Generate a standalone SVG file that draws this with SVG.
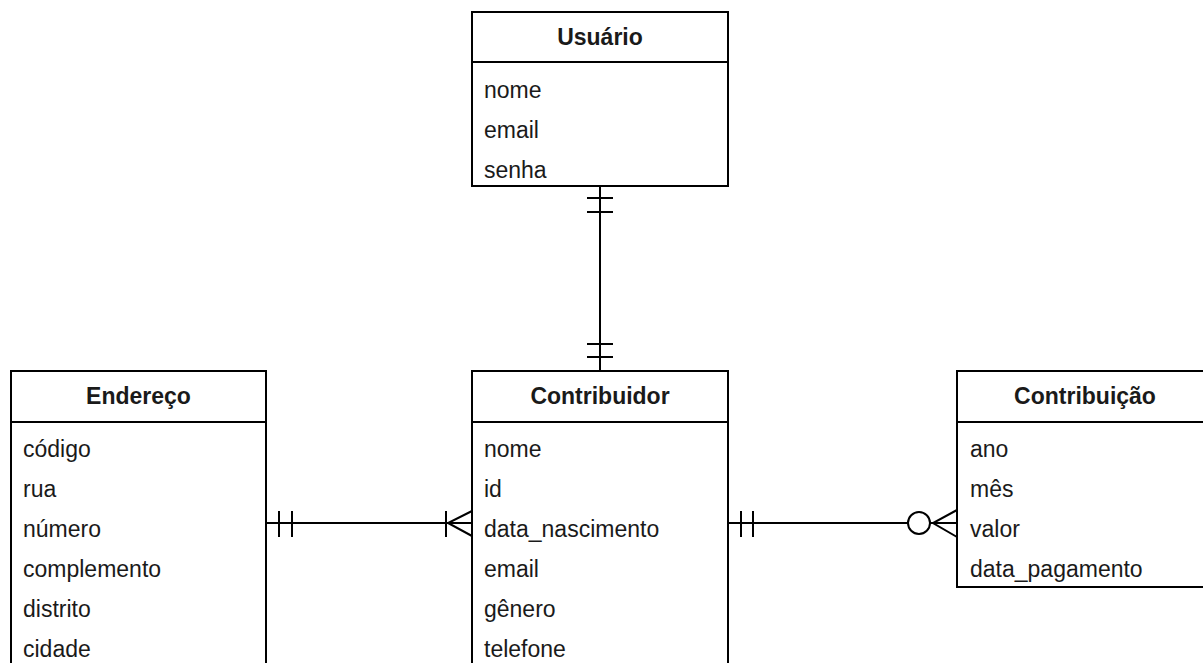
<svg xmlns="http://www.w3.org/2000/svg" width="1203" height="663" viewBox="0 0 1203 663">
<style>
.box{fill:#fff;stroke:#000;stroke-width:2}
.hl{stroke:#000;stroke-width:2}
.title{font-family:"Liberation Sans",Arial,sans-serif;font-size:23px;font-weight:bold;fill:#1a1a1a;text-anchor:middle}
.attr{font-family:"Liberation Sans",Arial,sans-serif;font-size:23px;fill:#1a1a1a}
.edge{fill:none;stroke:#000;stroke-width:2}
</style>
<rect width="1203" height="663" fill="#fff"/>
<g id="connectors">
  <!-- Usuario - Contribuidor -->
  <line class="edge" x1="600" y1="186" x2="600" y2="371"/>
  <line class="edge" x1="587" y1="198" x2="613" y2="198"/>
  <line class="edge" x1="587" y1="212" x2="613" y2="212"/>
  <line class="edge" x1="587" y1="344" x2="613" y2="344"/>
  <line class="edge" x1="587" y1="357" x2="613" y2="357"/>
  <!-- Endereco - Contribuidor -->
  <line class="edge" x1="266" y1="523" x2="472" y2="523"/>
  <line class="edge" x1="279" y1="511" x2="279" y2="537"/>
  <line class="edge" x1="292" y1="511" x2="292" y2="537"/>
  <line class="edge" x1="446" y1="511" x2="446" y2="537"/>
  <path class="edge" d="M472,511 L448,523 L472,536"/>
  <!-- Contribuidor - Contribuicao -->
  <line class="edge" x1="728" y1="523" x2="908" y2="523"/>
  <line class="edge" x1="741" y1="511" x2="741" y2="537"/>
  <line class="edge" x1="753" y1="511" x2="753" y2="537"/>
  <circle class="edge" cx="919" cy="523" r="11"/>
  <line class="edge" x1="930" y1="523" x2="957" y2="523"/>
  <path class="edge" d="M957,510 L933,523 L957,537"/>
</g>
<g id="usuario">
  <rect class="box" x="472" y="12" width="256" height="174"/>
  <line class="hl" x1="472" y1="62" x2="728" y2="62"/>
  <text class="title" x="600" y="45">Usuário</text>
  <text class="attr" x="484" y="98">nome</text>
  <text class="attr" x="484" y="138">email</text>
  <text class="attr" x="484" y="178">senha</text>
</g>
<g id="endereco">
  <rect class="box" x="11" y="371" width="255" height="330"/>
  <line class="hl" x1="11" y1="422" x2="266" y2="422"/>
  <text class="title" x="138.5" y="404">Endereço</text>
  <text class="attr" x="23" y="457">código</text>
  <text class="attr" x="23" y="497">rua</text>
  <text class="attr" x="23" y="537">número</text>
  <text class="attr" x="23" y="577">complemento</text>
  <text class="attr" x="23" y="617">distrito</text>
  <text class="attr" x="23" y="657">cidade</text>
</g>
<g id="contribuidor">
  <rect class="box" x="472" y="371" width="256" height="330"/>
  <line class="hl" x1="472" y1="422" x2="728" y2="422"/>
  <text class="title" x="600" y="404">Contribuidor</text>
  <text class="attr" x="484" y="457">nome</text>
  <text class="attr" x="484" y="497">id</text>
  <text class="attr" x="484" y="537">data_nascimento</text>
  <text class="attr" x="484" y="577">email</text>
  <text class="attr" x="484" y="617">gênero</text>
  <text class="attr" x="484" y="657">telefone</text>
</g>
<g id="contribuicao">
  <rect class="box" x="957" y="371" width="256" height="216"/>
  <line class="hl" x1="957" y1="422" x2="1213" y2="422"/>
  <text class="title" x="1085" y="404">Contribuição</text>
  <text class="attr" x="970" y="457">ano</text>
  <text class="attr" x="970" y="497">mês</text>
  <text class="attr" x="970" y="537">valor</text>
  <text class="attr" x="970" y="577">data_pagamento</text>
</g>
</svg>
